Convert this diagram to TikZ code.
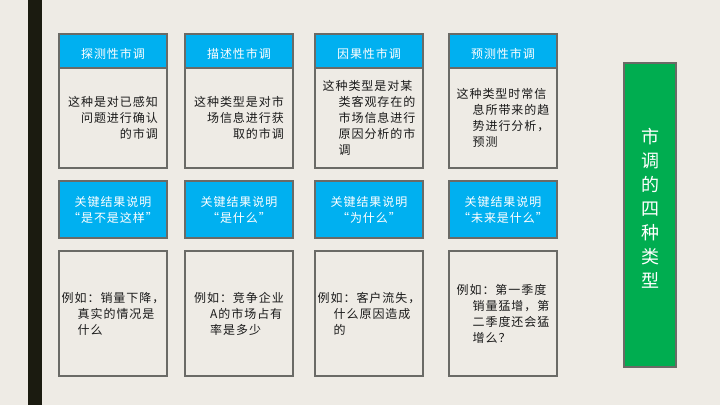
\documentclass[tikz,border=0pt]{standalone}
\usepackage{fontspec}
\setmainfont{Noto Sans CJK SC}[LetterSpace=8]
\usetikzlibrary{positioning}
\definecolor{bgcream}{HTML}{EEEBE5}
\definecolor{barblack}{HTML}{1B1B10}
\definecolor{boxgray}{HTML}{6A6A66}
\definecolor{hdblue}{HTML}{00B0F0}
\definecolor{titlegreen}{HTML}{00AD50}
\definecolor{bodytext}{HTML}{1A1A1A}
\tikzset{gbox/.style={
    rectangle,
    draw=boxgray,
    line width=2pt,
    outer sep=0pt,
    inner sep=2pt,
    minimum width=107.5pt,
    font=\fontsize{12pt}{16pt}\selectfont,
    execute at begin node={\rule{0pt}{16pt}}
  },
  headbox/.style={gbox,fill=hdblue,text=white,minimum height=34pt},
  descbox/.style={gbox,text=bodytext,minimum height=100pt},
  keybox/.style={gbox,fill=hdblue,text=white,align=center,minimum height=57pt},
  examplebox/.style={gbox,text=bodytext,align=left,minimum height=125pt},
  titlebox/.style={gbox,fill=titlegreen,minimum width=52pt,minimum height=304pt},
  titletext/.style={text=white,align=center,font=\fontsize{18pt}{24pt}\selectfont},
}
\newcommand{\ind}{\hspace*{16pt}}

\begin{document}
\begin{tikzpicture}[x=1pt,y=-1pt]
  \fill[bgcream] (0,0) rectangle (720,405);
  \useasboundingbox (0,0) rectangle (720,405);
  \fill[barblack] (28,0) rectangle (42,405);

  \node [headbox] (head1) at (113,51) {探测性市调};
  \node [headbox] (head2) at (239,51) {描述性市调};
  \node [headbox] (head3) at (369,51) {因果性市调};
  \node [headbox] (head4) at (503,51) {预测性市调};

  \node [descbox,align=right,below=0pt of head1] (desc1)
    {这种是对已感知\\问题进行确认\\的市调};
  \node [descbox,align=right,below=0pt of head2] (desc2)
    {这种类型是对市\\场信息进行获\\取的市调};
  \node [descbox,align=left,below=0pt of head3] (desc3)
    {这种类型是对某\\\ind 类客观存在的\\\ind 市场信息进行\\\ind 原因分析的市\\\ind 调};
  \node [descbox,align=left,below=0pt of head4] (desc4)
    {这种类型时常信\\\ind 息所带来的趋\\\ind 势进行分析，\\\ind 预测};

  \node [keybox,below=13pt of desc1] (key1) {关键结果说明\\“是不是这样”};
  \node [keybox,below=13pt of desc2] (key2) {关键结果说明\\“是什么”};
  \node [keybox,below=13pt of desc3] (key3) {关键结果说明\\“为什么”};
  \node [keybox,below=13pt of desc4] (key4) {关键结果说明\\“未来是什么”};

  \node [examplebox,below=13pt of key1] (ex1)
    {例如：销量下降，\\\ind 真实的情况是\\\ind 什么};
  \node [examplebox,below=13pt of key2] (ex2)
    {例如：竞争企业\\\ind A的市场占有\\\ind 率是多少};
  \node [examplebox,below=13pt of key3] (ex3)
    {例如：客户流失，\\\ind 什么原因造成\\\ind 的};
  \node [examplebox,below=13pt of key4] (ex4)
    {例如：第一季度\\\ind 销量猛增，第\\\ind 二季度还会猛\\\ind 增么？};

  \node [titlebox] (title) at (650,215) {};
  \node [titletext] (titlelbl) at ([yshift=7pt]title.center)
    {市\\调\\的\\四\\种\\类\\型};
\end{tikzpicture}
\end{document}
